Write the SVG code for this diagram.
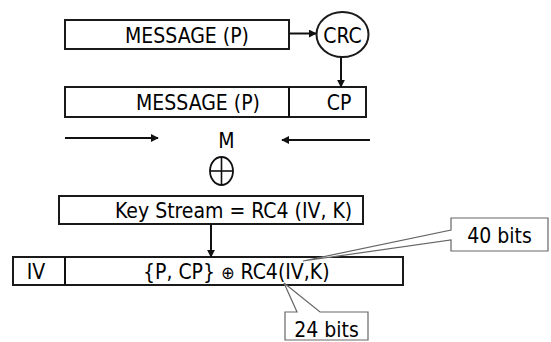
<svg xmlns="http://www.w3.org/2000/svg" width="551" height="342" viewBox="0 0 551 342">
  <style>
    .box { fill: #fff; stroke: #1a1a1a; stroke-width: 2; }
    .lbl { font-family: "DejaVu Sans Condensed", "DejaVu Sans", sans-serif; font-stretch: condensed; font-size: 21px; fill: #000; }
    .mid { text-anchor: middle; }
    .wire { fill: none; stroke: #111; stroke-width: 2; }
    .note { fill: #fff; stroke: #666; stroke-width: 1.2; stroke-linejoin: miter; }
  </style>
  <defs>
    <marker id="head" viewBox="0 0 10 10" refX="9" refY="5" markerWidth="4" markerHeight="4" orient="auto" markerUnits="strokeWidth">
      <path d="M0,0 L10,5 L0,10 Z" fill="#111"/>
    </marker>
  </defs>

  <rect width="551" height="342" fill="#fff"/>

  <!-- plaintext message -->
  <g id="message">
    <rect class="box" x="65" y="20" width="224" height="29"/>
    <text class="lbl mid" x="187" y="42.5">MESSAGE (P)</text>
  </g>

  <!-- checksum -->
  <g id="crc">
    <ellipse class="box" cx="342.5" cy="34.5" rx="26" ry="22.5"/>
    <text class="lbl mid" x="342.5" y="42.5">CRC</text>
  </g>

  <!-- message with appended checksum -->
  <g id="message-cp">
    <rect class="box" x="65" y="87" width="301" height="30"/>
    <line class="wire" x1="289" y1="87" x2="289" y2="117"/>
    <text class="lbl mid" x="198" y="110">MESSAGE (P)</text>
    <text class="lbl mid" x="339" y="110">CP</text>
  </g>

  <!-- xor operator -->
  <g id="xor">
    <text class="lbl mid" x="226.5" y="148" font-size="19">M</text>
    <ellipse cx="221.5" cy="171" rx="11.5" ry="14" fill="none" stroke="#111" stroke-width="1.8"/>
    <line x1="210" y1="171" x2="233" y2="171" stroke="#111" stroke-width="1.6"/>
    <line x1="221.5" y1="157" x2="221.5" y2="185" stroke="#111" stroke-width="1.6"/>
  </g>

  <!-- key stream -->
  <g id="keystream">
    <rect class="box" x="59" y="196" width="304" height="28"/>
    <text class="lbl" x="115" y="218">Key Stream = RC4 (IV, K)</text>
  </g>

  <!-- transmitted frame -->
  <g id="frame">
    <rect class="box" x="13" y="257" width="390" height="28"/>
    <line class="wire" x1="65" y1="257" x2="65" y2="285"/>
    <text class="lbl mid" x="36" y="279">IV</text>
    <text class="lbl" x="143" y="279" font-size="20">{P, CP} <tspan font-size="18">⊕</tspan><tspan dx="6">RC4(IV,K)</tspan></text>
  </g>

  <!-- size callouts -->
  <g id="callout-40">
    <path class="note" d="M451,218 H548 V251 H451 V240 L303,261 L451,230 Z"/>
    <text class="lbl mid" x="499.5" y="243">40 bits</text>
  </g>
  <g id="callout-24">
    <path class="note" d="M285,312 H297 L284,283 L320,312 H368 V340 H285 Z"/>
    <text class="lbl mid" x="326.5" y="337">24 bits</text>
  </g>

  <!-- connectors -->
  <g id="connectors">
    <line class="wire" x1="289" y1="33.5" x2="316" y2="33.5" marker-end="url(#head)"/>
    <line class="wire" x1="341" y1="57" x2="341" y2="87" marker-end="url(#head)"/>
    <line class="wire" x1="65" y1="138" x2="158" y2="138" marker-end="url(#head)"/>
    <line class="wire" x1="370" y1="140" x2="282" y2="140" marker-end="url(#head)"/>
    <line class="wire" x1="211" y1="224" x2="211" y2="257" marker-end="url(#head)"/>
  </g>
</svg>
